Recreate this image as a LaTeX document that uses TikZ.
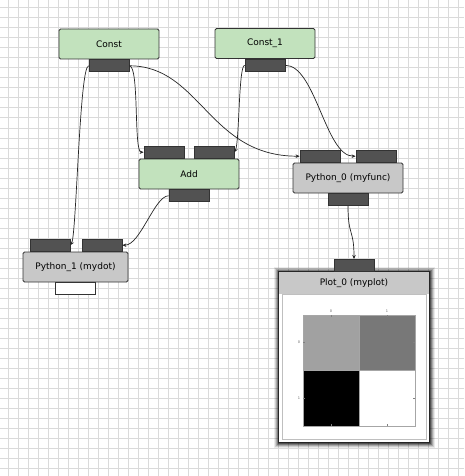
\documentclass[tikz,border=0pt]{standalone}
\usepackage{fontspec}
\setmainfont{DejaVu Sans}
\usetikzlibrary{arrows.meta}
\usetikzlibrary{positioning}
\definecolor{constgreen}{RGB}{194,226,189}
\definecolor{pygray}{RGB}{200,200,200}
\definecolor{portgray}{RGB}{82,82,82}
\definecolor{gridgray}{RGB}{218,218,218}
\tikzset{block/.style = {draw=black!80, line width=0.8, fill=constgreen, rounded corners=1.5,
                         minimum width=100, minimum height=30, inner sep=0,
                         font=\fontsize{9}{10}\selectfont}}
\tikzset{pyblock/.style = {block, fill=pygray}}
\tikzset{port/.style = {draw=black!80, line width=0.8, fill=portgray,
                        minimum width=40, minimum height=12, inner sep=0}}
\tikzset{wire/.style = {draw=black!85, line width=0.7, -{Stealth[length=4, width=3.5]}}}
\tikzset{ticklbl/.style = {font=\fontsize{3.5}{4}\selectfont, text=black!60, inner sep=0}}

\begin{document}
\begin{tikzpicture}[x=1pt, y=-1pt]
    \useasboundingbox (0, 0) rectangle (464, 476);
    \fill [white] (0, 0) rectangle (464, 476);
    \foreach \g in {8, 18, ..., 458} {
        \draw [gridgray, line width=1] (\g, 0) -- (\g, 476);
    }
    \foreach \g in {8, 18, ..., 468} {
        \draw [gridgray, line width=1] (0, \g) -- (464, \g);
    }

    % blocks
    \node [block] (const) at (109, 44) {Const};
    \node [block] (constone) at (265, 43.5) {Const\_1};
    \node [block] (add) at (189, 174) {Add};
    \node [pyblock, minimum width=110] (pyzero) at (348, 178) {Python\_0 (myfunc)};
    \node [pyblock, minimum width=105] (pyone) at (75.5, 267) {Python\_1 (mydot)};

    % ports
    \node [port, below=0 of const] (constout) {};
    \node [port, below=0 of constone] (constoneout) {};
    \node [port, above right=0 and 5 of add.north west] (addinA) {};
    \node [port, above left=0 and 5 of add.north east] (addinB) {};
    \node [port, below=0 of add] (addout) {};
    \node [port, above right=0 and 7 of pyzero.north west] (pyzeroinA) {};
    \node [port, above left=0 and 7 of pyzero.north east] (pyzeroinB) {};
    \node [port, below=0 of pyzero] (pyzeroout) {};
    \node [port, above right=0 and 7 of pyone.north west] (pyoneinA) {};
    \node [port, above left=0 and 6 of pyone.north east] (pyoneinB) {};
    \node [port, fill=white, below=0 of pyone] (pyoneout) {};

    % plot window with shadow
    \foreach \s/\o in {5/0.08, 4/0.12, 3/0.18, 2/0.25, 1/0.35} {
        \fill [black, opacity=\o] (279-\s, 272-\s) rectangle (429+\s+1, 442+\s+1);
    }
    \node [draw=none, fill=white, minimum width=150, minimum height=170, inner sep=0] (plot) at (354, 357) {};
    \node [pyblock, draw=none, rounded corners=0, minimum width=150, minimum height=22] (plothead) at (354, 283) {Plot\_0 (myplot)};
    \draw [black!25, line width=0.6] (282, 294) rectangle (426, 439);
    \draw [black!85, line width=1] (plot.north west) rectangle (plot.south east);
    \node [port, above=0 of plot] (plotin) {};

    % matrix image
    \fill [black!37] (303, 315) rectangle (359, 370);
    \fill [black!53] (359, 315) rectangle (415, 370);
    \fill [black] (303, 370) rectangle (359, 426);
    \draw [black!35, line width=0.5] (303, 315) rectangle (415, 426);
    \draw [black!35, line width=0.5] (359, 315) -- (359, 426) (303, 370) -- (415, 370);
    \foreach \t/\l in {331/0, 387/1} {
        \draw [black!50, line width=0.3] (\t, 315) -- (\t, 317) (\t, 426) -- (\t, 424);
        \node [ticklbl] at (\t, 311) {\l};
    }
    \foreach \t/\l in {342/0, 398/1} {
        \draw [black!50, line width=0.3] (303, \t) -- (305, \t) (415, \t) -- (413, \t);
        \node [ticklbl] at (299, \t) {\l};
    }

    % connectors
    \draw [wire] (constout.west) .. controls +(-9, 0) and +(6, -10) .. (pyoneinA.east);
    \draw [wire] (constout.east) .. controls +(10, 0) and +(-10, 0) .. (addinA.west);
    \draw [wire] (constout.east) .. controls +(71, 0) and +(-91, 0) .. (pyzeroinA.west);
    \draw [wire] (constoneout.west) .. controls +(-6, 0) and +(5, -10) .. (addinB.east);
    \draw [wire] (constoneout.east) .. controls +(30, 0) and +(-30, 0) .. (pyzeroinB.west);
    \draw [wire] (addout.west) .. controls +(-14, 0) and +(18, 0) .. (pyoneinB.east);
    \draw [wire] (pyzeroout.south) .. controls +(0, 30) and +(0, -30) .. (plotin.north);
\end{tikzpicture}
\end{document}
